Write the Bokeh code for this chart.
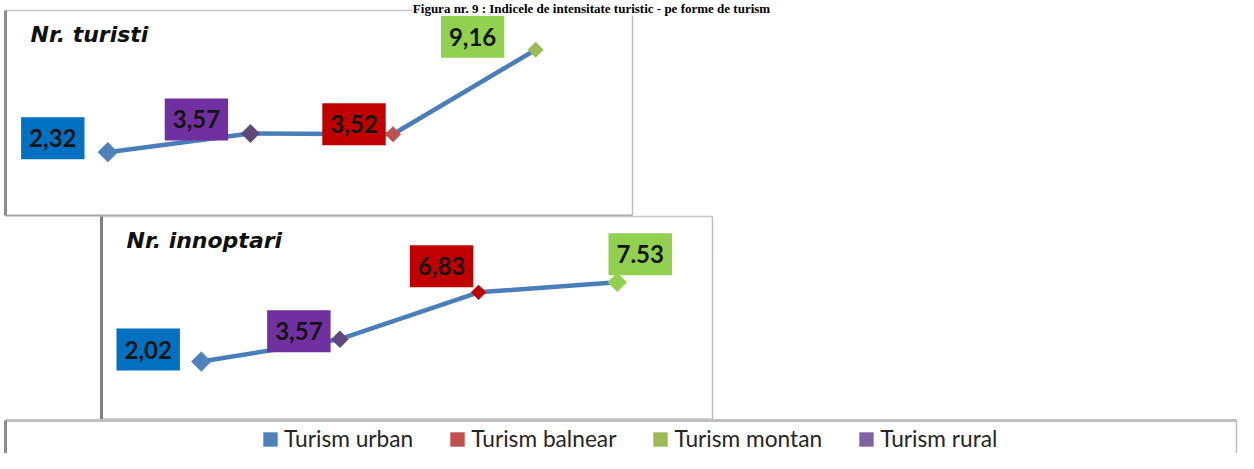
import math
from bokeh.plotting import figure
from bokeh.models import Range1d, ColumnDataSource, Legend, LegendItem, Label
from bokeh.core.properties import value
from bokeh.embed import file_html
from bokeh.resources import INLINE

# ---------------- data ----------------
categories = ["Turism urban", "Turism rural", "Turism balnear", "Turism montan"]
turisti = [2.32, 3.57, 3.52, 9.16]
turisti_labels = ["2,32", "3,57", "3,52", "9,16"]
innoptari = [2.02, 3.57, 6.83, 7.53]
innoptari_labels = ["2,02", "3,57", "6,83", "7.53"]
legend_order = ["Turism urban", "Turism balnear", "Turism montan", "Turism rural"]
panel_titles = ["Nr. turisti", "Nr. innoptari"]
title_text = "Figura nr. 9 : Indicele de intensitate turistic - pe forme de turism"

# ---------------- styles ----------------
box_colors = {"Turism urban": "#0070C0", "Turism rural": "#7030A0",
              "Turism balnear": "#C00000", "Turism montan": "#92D050"}
marker_colors_1 = {"Turism urban": "#4F81BD", "Turism rural": "#5F497A",
                   "Turism balnear": "#C0504D", "Turism montan": "#9BBB59"}
marker_colors_2 = {"Turism urban": "#4F81BD", "Turism rural": "#5F497A",
                   "Turism balnear": "#C00000", "Turism montan": "#92D050"}
legend_colors = {"Turism urban": "#4F81BD", "Turism balnear": "#C0504D",
                 "Turism montan": "#9BBB59", "Turism rural": "#8064A2"}
marker_size_1 = [14, 13, 11, 11]
marker_size_2 = [14, 12, 10.5, 13.5]
label_dx_1 = [-55, -54, -39, -63]
label_dy_1 = [-14, -14, -10, -13]
label_dx_2 = [-53, -41, -37, 23]
label_dy_2 = [-12, -8, -26, -28]

W, H = 1238, 453          # figure size in screen pixels

p = figure(width=W, height=H, x_range=Range1d(0, W), y_range=Range1d(H, 0),
           toolbar_location=None, output_backend="svg", min_border=0,
           x_axis_location=None, y_axis_location=None)
p.xgrid.visible = False
p.ygrid.visible = False
p.outline_line_color = None
p.background_fill_color = "white"
p.border_fill_color = "white"


def x_scale(px_first, step):
    return Range1d(start=(0 - px_first) / step, end=(W - px_first) / step)


def y_scale(px_zero, px_per_unit):
    return Range1d(start=(px_zero - H) / px_per_unit, end=px_zero / px_per_unit)


p.extra_x_ranges = {"x1": x_scale(107.3, 142.6), "x2": x_scale(200.7, 138.67)}
p.extra_y_ranges = {"y1": y_scale(186.4, 14.97), "y2": y_scale(390.1, 14.39)}

# ---------------- panel frames (decoration) ----------------
frames = dict(
    x0=[5, 5, 632, 5, 101, 101, 712, 101, 5, 5, 1236],
    y0=[10, 215, 10, 10, 216, 419, 216, 216, 420, 420, 420],
    x1=[632, 632, 632, 5, 712, 712, 712, 101, 1236, 5, 1236],
    y1=[10, 215, 215, 215, 216, 419, 419, 419, 420, 453, 453],
    c=["#C8C8C8", "#A6A6A6", "#BDBDBD", "#8C8C8C",
       "#C8C8C8", "#A6A6A6", "#BDBDBD", "#7F7F7F",
       "#BFBFBF", "#8C8C8C", "#BFBFBF"],
    w=[1.5, 2, 1.5, 3, 1.5, 2, 1.5, 3, 3, 3, 1.5],
)
p.segment("x0", "y0", "x1", "y1", source=ColumnDataSource(frames),
          line_color="c", line_width="w")

# ---------------- page title ----------------
p.add_layout(Label(x=591, y=0, text=title_text, text_font="Liberation Serif",
                   text_font_style="bold", text_font_size="13px", text_color="black",
                   text_baseline="top", text_align="center",
                   background_fill_color="white"))

# ---------------- panels ----------------
def panel(vals, labels, mcolors, msizes, dxs, dys, xr, yr):
    src = ColumnDataSource(dict(
        i=list(range(len(categories))), v=vals, label=labels,
        box=[box_colors[c] for c in categories],
        mc=[mcolors[c] for c in categories], ms=msizes, dx=dxs, dy=dys))
    p.line("i", "v", source=src, x_range_name=xr, y_range_name=yr,
           line_color="#4A7EBB", line_width=4.5)
    p.text("i", "v", text="label", source=src, x_range_name=xr, y_range_name=yr,
           x_offset="dx", y_offset="dy", text_align="center", text_baseline="middle",
           text_font=value("Lato"), text_font_style="bold", text_font_size="24px",
           text_color="#141414", background_fill_color="box",
           padding=dict(x=8, y=12))
    p.scatter("i", "v", source=src, x_range_name=xr, y_range_name=yr,
              marker="square", angle=math.pi / 4, size="ms",
              fill_color="mc", line_color="mc", line_width=0.5)


panel(turisti, turisti_labels, marker_colors_1, marker_size_1, label_dx_1, label_dy_1, "x1", "y1")
panel(innoptari, innoptari_labels, marker_colors_2, marker_size_2, label_dx_2, label_dy_2, "x2", "y2")

# ---------------- panel titles ----------------
p.add_layout(Label(x=30, y=33.5, text=panel_titles[0], text_font="DejaVu Sans",
                   text_font_style="bold italic", text_font_size="22px",
                   text_color="#111111", text_baseline="alphabetic"))
p.add_layout(Label(x=126, y=239.5, text=panel_titles[1], text_font="DejaVu Sans",
                   text_font_style="bold italic", text_font_size="22px",
                   text_color="#111111", text_baseline="alphabetic"))

# ---------------- legend ----------------
nan = float("nan")
leg_src = ColumnDataSource(dict(l=[nan] * 4, r=[nan] * 4, t=[nan] * 4, b=[nan] * 4,
                                c=[legend_colors[k] for k in legend_order]))
leg_r = p.quad(left="l", right="r", top="t", bottom="b", source=leg_src,
               fill_color="c", line_color=None)
items = [LegendItem(label=k, renderers=[leg_r], index=i) for i, k in enumerate(legend_order)]
legend = Legend(items=items, orientation="horizontal", location=(261, 1),
                label_text_font="Lato", label_text_font_size="22.7px",
                label_text_color="#262626", glyph_width=18, glyph_height=18,
                label_standoff=5, spacing=35, padding=0, margin=0,
                border_line_color=None, background_fill_alpha=0)
p.add_layout(legend)

open("out.html", "w").write(file_html(p, INLINE))
